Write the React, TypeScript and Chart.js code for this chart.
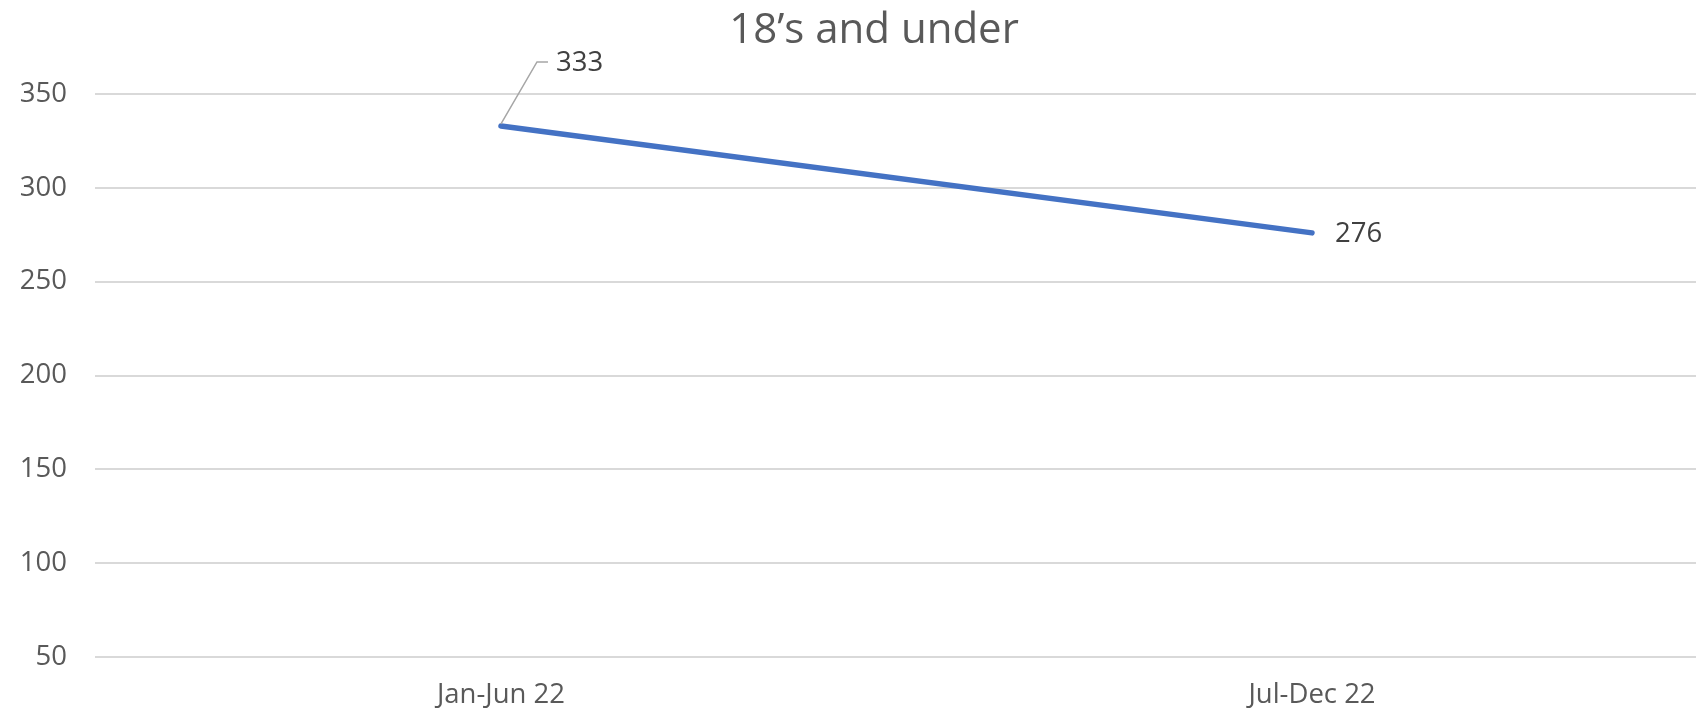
import React, { useEffect, useRef } from "react";
import { Chart, registerables } from "chart.js";

Chart.register(...registerables);

const TITLE = "18’s and under";
const categories = ["Jan-Jun 22", "Jul-Dec 22"];
const values = [333, 276];
const yTicks = [50, 100, 150, 200, 250, 300, 350];

const FONT = "'Open Sans', 'Noto Sans', sans-serif";

const titlePlugin = {
  id: "customTitle",
  afterDraw(chart: any) {
    const ctx = chart.ctx;
    ctx.save();
    ctx.font = `42px ${FONT}`;
    ctx.fillStyle = "#595959";
    ctx.textAlign = "center";
    ctx.textBaseline = "alphabetic";
    ctx.fillText(TITLE, chart.width / 2 + 26, 43);
    ctx.restore();
  },
};

const labelPlugin = {
  id: "dataLabels",
  afterDatasetsDraw(chart: any) {
    const ctx = chart.ctx;
    const meta = chart.getDatasetMeta(0);
    ctx.save();
    ctx.font = `27.5px ${FONT}`;
    ctx.fillStyle = "#404040";
    ctx.textBaseline = "middle";
    ctx.textAlign = "left";
    meta.data.forEach((pt: any, i: number) => {
      const x = pt.x;
      const y = pt.y;
      const text = String(values[i]);
      if (i === 0) {
        ctx.strokeStyle = "#a6a6a6";
        ctx.lineWidth = 1.5;
        ctx.beginPath();
        ctx.moveTo(x, y - 2);
        ctx.lineTo(x + 36, y - 64);
        ctx.lineTo(x + 47, y - 64);
        ctx.stroke();
        ctx.fillText(text, x + 55, y - 63);
      } else {
        ctx.fillText(text, x + 23, y + 1);
      }
    });
    ctx.restore();
  },
};

export default function App() {
  const ref = useRef<HTMLCanvasElement>(null);

  useEffect(() => {
    if (!ref.current) return;
    const chart = new Chart(ref.current, {
      type: "line",
      data: {
        datasets: [
          {
            data: values.map((v, i) => ({ x: i, y: v })),
            borderColor: "#4472C4",
            backgroundColor: "#4472C4",
            borderWidth: 5.5,
            borderCapStyle: "round",
            pointRadius: 0,
            pointHoverRadius: 0,
            tension: 0,
          },
        ],
      },
      options: {
        responsive: false,
        animation: false,
        layout: { padding: { top: 94, right: 0, left: 0, bottom: 0 } },
        plugins: {
          legend: { display: false },
          title: { display: false },
          tooltip: { enabled: false },
        },
        scales: {
          x: {
            type: "linear",
            min: -0.5006,
            max: 1.4735,
            grid: { display: false, drawTicks: false },
            border: { display: false },
            afterBuildTicks: (scale: any) => {
              scale.ticks = categories.map((_, i) => ({ value: i }));
            },
            afterFit: (scale: any) => {
              scale.height = 56;
            },
            ticks: {
              padding: 22,
              color: "#595959",
              font: { family: FONT, size: 27.5 },
              autoSkip: false,
              maxRotation: 0,
              callback: (v: any) => categories[v as number] ?? "",
            },
          },
          y: {
            min: 50,
            max: 350,
            grid: { color: "#d9d9d9", lineWidth: 2, drawTicks: false },
            border: { display: false },
            afterBuildTicks: (scale: any) => {
              scale.ticks = yTicks.map((v) => ({ value: v }));
            },
            afterFit: (scale: any) => {
              scale.width = 95;
            },
            ticks: {
              padding: 28,
              color: "#595959",
              font: { family: FONT, size: 27.5 },
            },
          },
        },
      },
      plugins: [titlePlugin, labelPlugin],
    } as any);
    return () => chart.destroy();
  }, []);

  return (
    <div style={{ position: "absolute", left: 0, top: 0, width: 1696, height: 713, background: "#fff" }}>
      <canvas ref={ref} width={1696} height={713} style={{ display: "block" }} />
    </div>
  );
}
